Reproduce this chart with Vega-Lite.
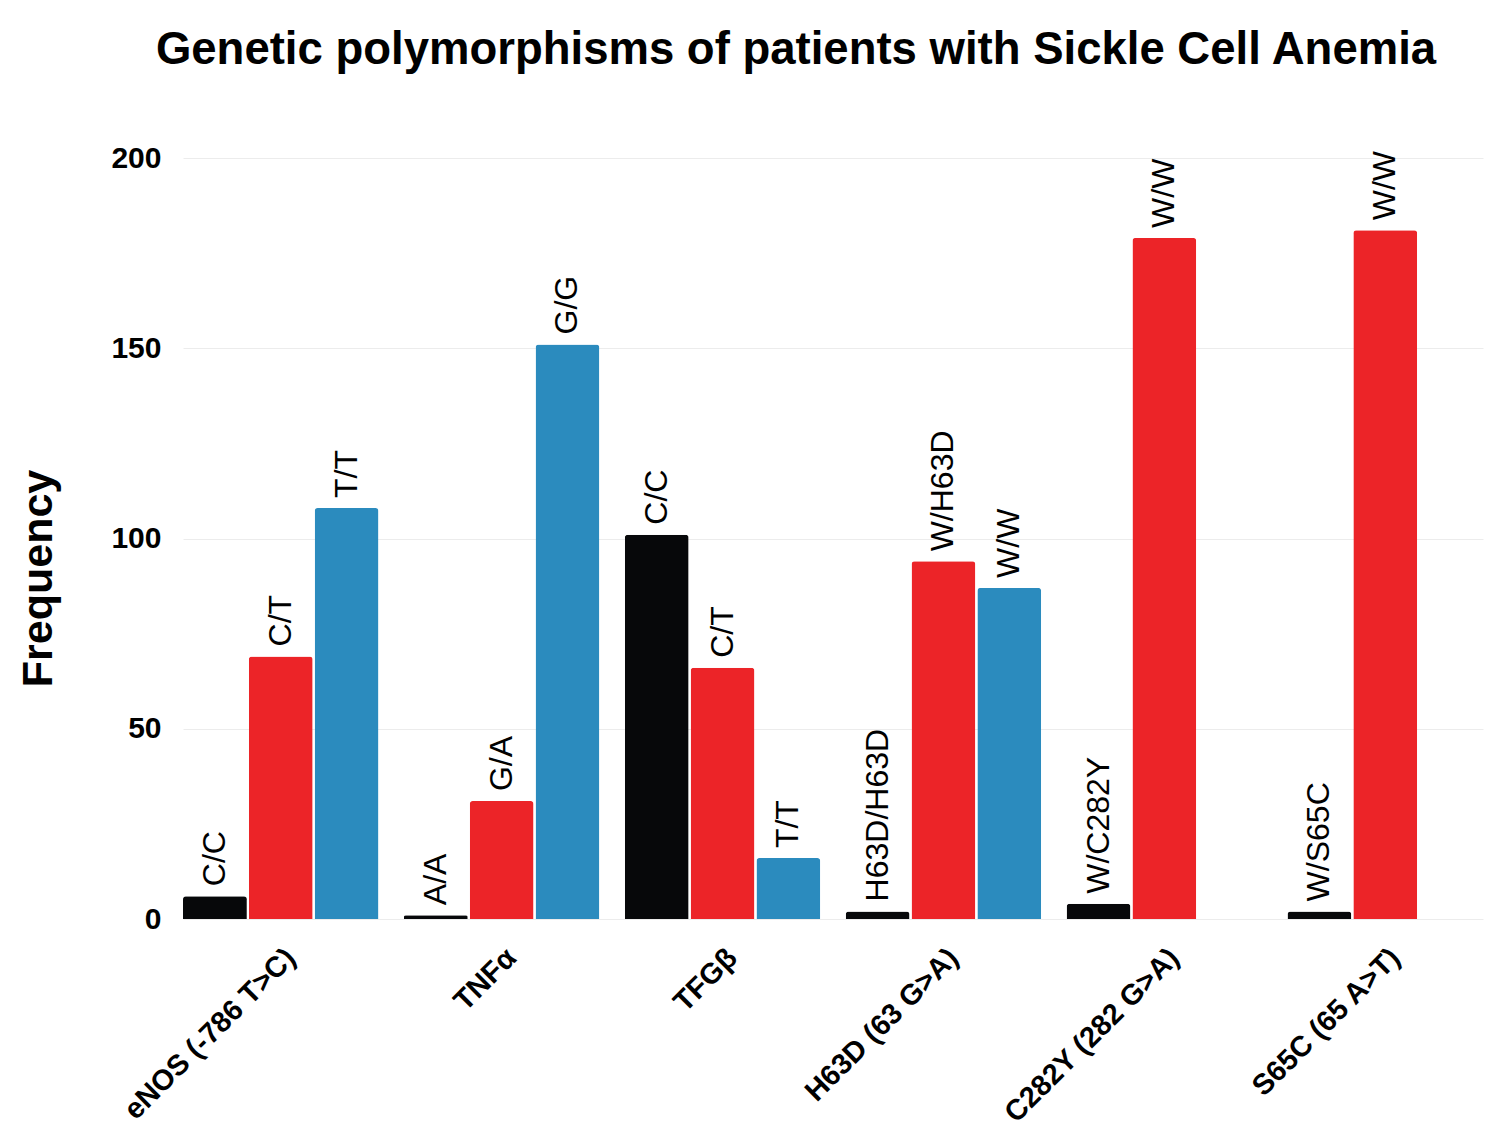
{
  "$schema": "https://vega.github.io/schema/vega-lite/v6.json",
  "width": 1300,
  "height": 761,
  "autosize": "none",
  "padding": {"left": 183, "top": 158, "right": 17, "bottom": 227},
  "background": "white",
  "view": {"stroke": null},
  "title": {
    "text": "Genetic polymorphisms of patients with Sickle Cell Anemia",
    "font": "Liberation Sans",
    "fontSize": 45.5,
    "fontWeight": "bold",
    "color": "#000000",
    "anchor": "middle",
    "frame": "group",
    "dx": -37,
    "offset": 70
  },
  "data": {
    "values": [
      {"locus": "eNOS (-786 T>C)", "genotype": "C/C", "position": "1", "frequency": 6},
      {"locus": "eNOS (-786 T>C)", "genotype": "C/T", "position": "2", "frequency": 69},
      {"locus": "eNOS (-786 T>C)", "genotype": "T/T", "position": "3", "frequency": 108},
      {"locus": "TNFα", "genotype": "A/A", "position": "1", "frequency": 1},
      {"locus": "TNFα", "genotype": "G/A", "position": "2", "frequency": 31},
      {"locus": "TNFα", "genotype": "G/G", "position": "3", "frequency": 151},
      {"locus": "TFGβ", "genotype": "C/C", "position": "1", "frequency": 101},
      {"locus": "TFGβ", "genotype": "C/T", "position": "2", "frequency": 66},
      {"locus": "TFGβ", "genotype": "T/T", "position": "3", "frequency": 16},
      {"locus": "H63D (63 G>A)", "genotype": "H63D/H63D", "position": "1", "frequency": 2},
      {"locus": "H63D (63 G>A)", "genotype": "W/H63D", "position": "2", "frequency": 94},
      {"locus": "H63D (63 G>A)", "genotype": "W/W", "position": "3", "frequency": 87},
      {"locus": "C282Y (282 G>A)", "genotype": "W/C282Y", "position": "1", "frequency": 4},
      {"locus": "C282Y (282 G>A)", "genotype": "W/W", "position": "2", "frequency": 179},
      {"locus": "S65C (65 A>T)", "genotype": "W/S65C", "position": "1", "frequency": 2},
      {"locus": "S65C (65 A>T)", "genotype": "W/W", "position": "2", "frequency": 181}
    ]
  },
  "encoding": {
    "x": {
      "field": "locus",
      "type": "nominal",
      "sort": null,
      "scale": {"paddingInner": 0.115, "paddingOuter": 0},
      "axis": {
        "title": null,
        "labelAngle": -45,
        "labelFont": "Liberation Sans",
        "labelFontSize": 29,
        "labelFontWeight": "bold",
        "labelColor": "#000000",
        "labelPadding": 24,
        "labelLimit": 500,
        "ticks": false,
        "domain": false
      }
    },
    "xOffset": {
      "field": "position",
      "type": "nominal",
      "scale": {"domain": ["1", "2", "3"], "paddingInner": 0.03, "paddingOuter": 0}
    },
    "y": {
      "field": "frequency",
      "type": "quantitative",
      "scale": {"domain": [0, 200]},
      "axis": {
        "values": [0, 50, 100, 150, 200],
        "grid": true,
        "gridColor": "#ececec",
        "domain": false,
        "ticks": false,
        "labelFont": "Liberation Sans",
        "labelFontSize": 30,
        "labelFontWeight": "bold",
        "labelColor": "#000000",
        "labelPadding": 22,
        "title": "Frequency",
        "titleFont": "Liberation Sans",
        "titleFontSize": 43,
        "titleFontWeight": "bold",
        "titleColor": "#000000",
        "titleAngle": -90,
        "titleAlign": "center",
        "titleBaseline": "middle",
        "titleX": -145,
        "titleY": 420
      }
    }
  },
  "layer": [
    {
      "mark": {"type": "bar", "cornerRadiusTopLeft": 3, "cornerRadiusTopRight": 3},
      "encoding": {
        "color": {
          "field": "position",
          "type": "nominal",
          "scale": {"domain": ["1", "2", "3"], "range": ["#07080a", "#ec2428", "#2b8bbe"]},
          "legend": null
        }
      }
    },
    {
      "mark": {
        "type": "text",
        "angle": 270,
        "align": "left",
        "baseline": "middle",
        "dx": 10,
        "font": "Liberation Sans",
        "fontSize": 32,
        "color": "#000000"
      },
      "encoding": {
        "text": {"field": "genotype"}
      }
    }
  ]
}
